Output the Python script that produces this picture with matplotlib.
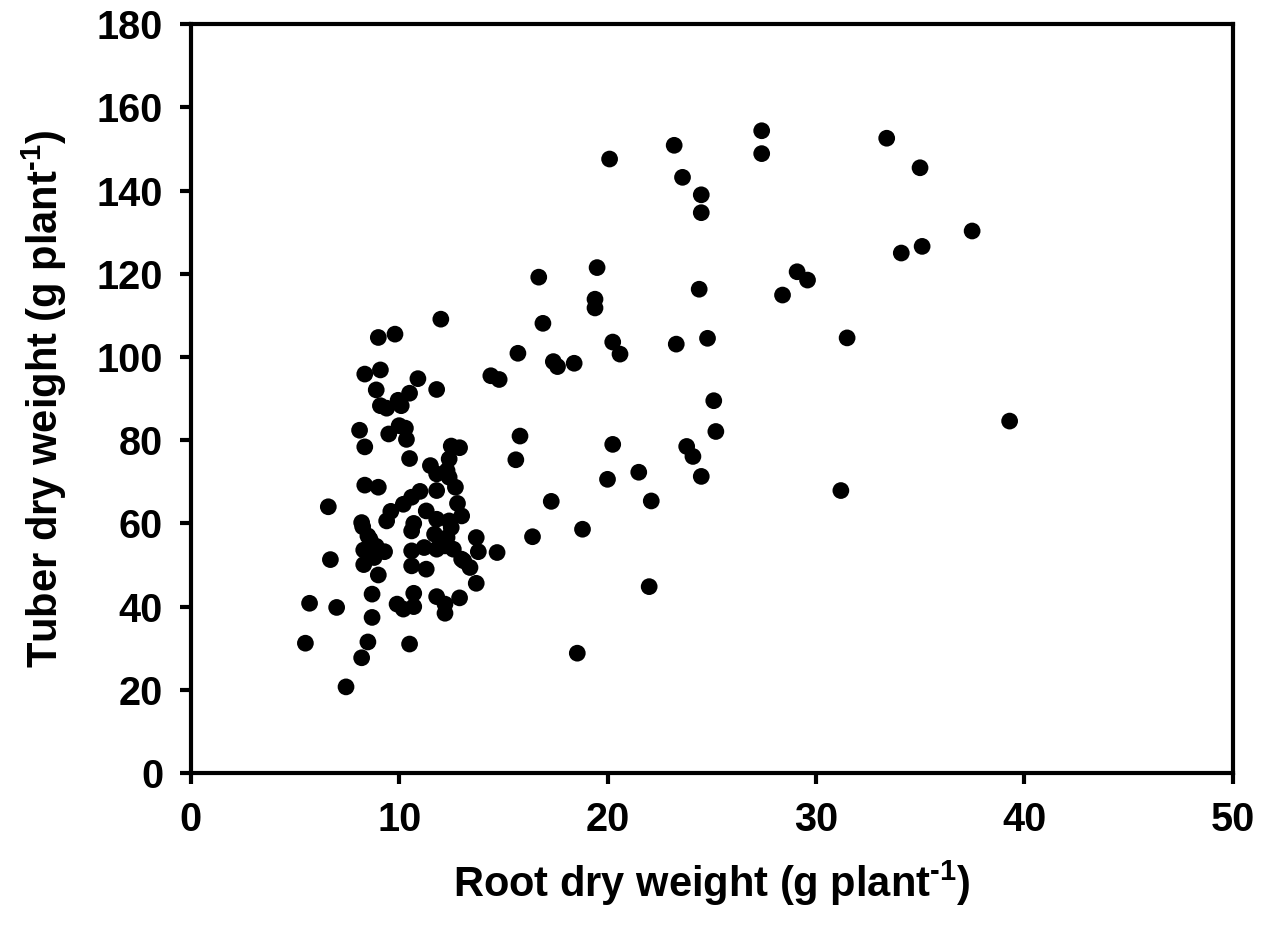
import matplotlib
matplotlib.use("Agg")
from matplotlib import pyplot as plt

plt.rcParams['font.family'] = ['Liberation Sans', 'DejaVu Sans']
plt.rcParams['font.weight'] = 'bold'
plt.rcParams['mathtext.fontset'] = 'custom'
plt.rcParams['mathtext.rm'] = 'Liberation Sans:bold'
plt.rcParams['mathtext.bf'] = 'Liberation Sans:bold'
plt.rcParams['mathtext.it'] = 'Liberation Sans:bold'

# root dry weight (x) and tuber dry weight (y), g per plant
root = [20.1, 23.2, 23.6, 24.5, 24.5, 27.4, 27.4, 33.4, 19.5, 29.1, 35.0, 37.5, 35.1, 34.1, 29.6,
        24.4, 28.4, 19.4, 19.4, 16.7, 16.9, 31.5, 20.25, 20.6, 23.3, 24.8, 17.4, 17.6, 18.4, 25.1,
        25.2, 20.25, 23.8, 24.1, 20.0, 21.5, 24.5, 31.2, 17.3, 22.1, 18.8, 16.4, 22.0, 18.55, 39.3,
        12.0, 9.0, 9.8, 15.7, 14.4, 14.8, 8.35, 9.1, 10.9, 11.8, 8.9, 10.5, 9.95, 10.1, 9.1,
        9.4, 8.1, 9.5, 10.0, 10.3, 10.35, 8.35, 15.8, 15.6, 10.5, 12.5, 12.9, 12.4, 11.5, 11.8,
        12.3, 12.4, 12.7, 11.8, 12.8, 13.0, 8.35, 9.0, 6.6, 11.0, 10.6, 10.2, 9.6, 11.3, 8.2,
        9.4, 10.7, 11.8, 12.4,
        6.7, 5.7, 7.0, 5.5, 7.45, 8.2, 8.5, 8.7, 8.7, 10.5, 9.9, 10.2, 10.7, 10.7, 11.8,
        12.2, 12.2, 12.9, 13.7, 14.7, 13.7, 13.8, 13.0, 13.4, 9.0, 8.3, 9.3, 8.3, 8.6, 8.8,
        8.25, 10.6, 11.3, 10.6, 10.6, 11.2, 11.8, 11.7, 12.3, 12.5, 12.6, 12.2, 13.1, 8.9, 8.5]
tuber = [147.6, 150.9, 143.2, 139.0, 134.7, 154.4, 148.9, 152.6, 121.5, 120.5, 145.5, 130.3, 126.6, 125.0, 118.5,
         116.3, 114.9, 113.9, 111.8, 119.2, 108.1, 104.6, 103.6, 100.7, 103.1, 104.5, 98.9, 97.7, 98.5, 89.5,
         82.1, 79.0, 78.5, 76.1, 70.6, 72.3, 71.3, 67.9, 65.3, 65.4, 58.6, 56.8, 44.8, 28.8, 84.6,
         109.1, 104.7, 105.5, 100.9, 95.5, 94.6, 95.9, 96.9, 94.8, 92.2, 92.1, 91.3, 89.6, 88.3, 88.3,
         87.7, 82.4, 81.5, 83.5, 82.9, 80.2, 78.4, 81.0, 75.3, 75.6, 78.6, 78.2, 75.5, 73.9, 71.9,
         72.7, 71.1, 68.7, 67.9, 64.8, 61.8, 69.2, 68.7, 64.0, 67.7, 66.3, 64.6, 62.9, 63.0, 60.2,
         60.6, 60.0, 61.0, 60.6,
         51.3, 40.8, 39.8, 31.2, 20.7, 27.7, 31.5, 37.4, 43.0, 31.0, 40.6, 39.4, 43.2, 40.0, 42.4,
         40.6, 38.4, 42.1, 45.6, 53.0, 56.6, 53.2, 51.4, 49.4, 47.6, 50.1, 53.2, 53.6, 56.2, 51.8,
         59.2, 49.8, 49.0, 53.4, 58.2, 54.2, 53.8, 57.4, 56.6, 59.0, 53.8, 54.6, 51.0, 54.5, 57.0]

fig = plt.figure(figsize=(12.72, 9.33), dpi=100)
ax = fig.add_axes([0.150, 0.1715, 0.819, 0.8025])

ax.scatter(root, tuber, s=145, c='black', edgecolors='none', zorder=3, clip_on=False)

ax.set_xlim(0, 50)
ax.set_ylim(0, 180)
ax.set_xticks([0, 10, 20, 30, 40, 50])
ax.set_yticks(range(0, 181, 20))

for s in ax.spines.values():
    s.set_linewidth(3)
ax.tick_params(direction='out', length=8, width=3, labelsize=28.5, pad=12)
for lab in ax.get_xticklabels() + ax.get_yticklabels():
    lab.set_fontweight('bold')

unit = r'(g plant$^{\text{-1}}$)'
ax.set_xlabel('Root dry weight ' + unit, fontsize=30, fontweight='bold', labelpad=14)
ax.set_ylabel('Tuber dry weight ' + unit, fontsize=30, fontweight='bold', labelpad=20)

fig.savefig('out.png', dpi=100)
